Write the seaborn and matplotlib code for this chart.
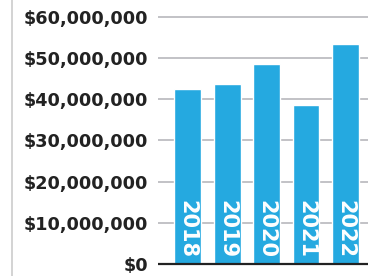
import seaborn as sns
import matplotlib.pyplot as plt
import pandas as pd
from matplotlib.ticker import FuncFormatter
from matplotlib.lines import Line2D

years = ["2018", "2019", "2020", "2021", "2022"]
amounts = [42.4e6, 43.6e6, 48.5e6, 38.5e6, 53.3e6]
yticks = [0, 10e6, 20e6, 30e6, 40e6, 50e6, 60e6]

sns.set_theme(style="white")
plt.rcParams['font.family'] = ['DejaVu Sans']

df = pd.DataFrame({'year': years, 'amount': amounts})

W, H = 368, 276
fig = plt.figure(figsize=(W / 100, H / 100), dpi=100)
# axes placed in pixel terms
left, right = 158, 368
bottom_px, top_px = 266.5, 8.25
ax = fig.add_axes([left / W, (H - bottom_px) / H, (right - left) / W, (bottom_px - top_px) / H])

sns.barplot(data=df, x='year', y='amount', color='#25a9e0', width=0.68,
            saturation=1, ax=ax, zorder=3)

ax.set_xlim(-0.75, 4.57)
ax.set_ylim(-0.6e6, 62e6)
ax.set_yticks(yticks)
ax.yaxis.set_major_formatter(FuncFormatter(lambda v, p: '${:,.0f}'.format(v)))
ax.tick_params(axis='y', length=0, pad=7.2, labelsize=12.7, labelcolor='#222222')
for lbl in ax.get_yticklabels():
    lbl.set_fontweight('bold')
ax.set_xticks([])
ax.set_xlabel('')
ax.set_ylabel('')
for s in ax.spines.values():
    s.set_visible(False)

for y in yticks[1:]:
    ax.axhline(y, color='#c2c2c6', lw=1.4, zorder=1)
ax.axhline(0, color='#222222', lw=1.6, zorder=4)

for i, yr in enumerate(years):
    ax.annotate(yr, xy=(i, 0), xytext=(0, 4.3), textcoords='offset points',
                rotation=-90, ha='center', va='bottom', color='white',
                fontsize=15, fontweight='bold', zorder=5)

# light vertical rule at far left
fig.add_artist(Line2D([12 / W, 12 / W], [0, 1], color='#cccccc', lw=1.2))

fig.savefig('out.png', dpi=100)
